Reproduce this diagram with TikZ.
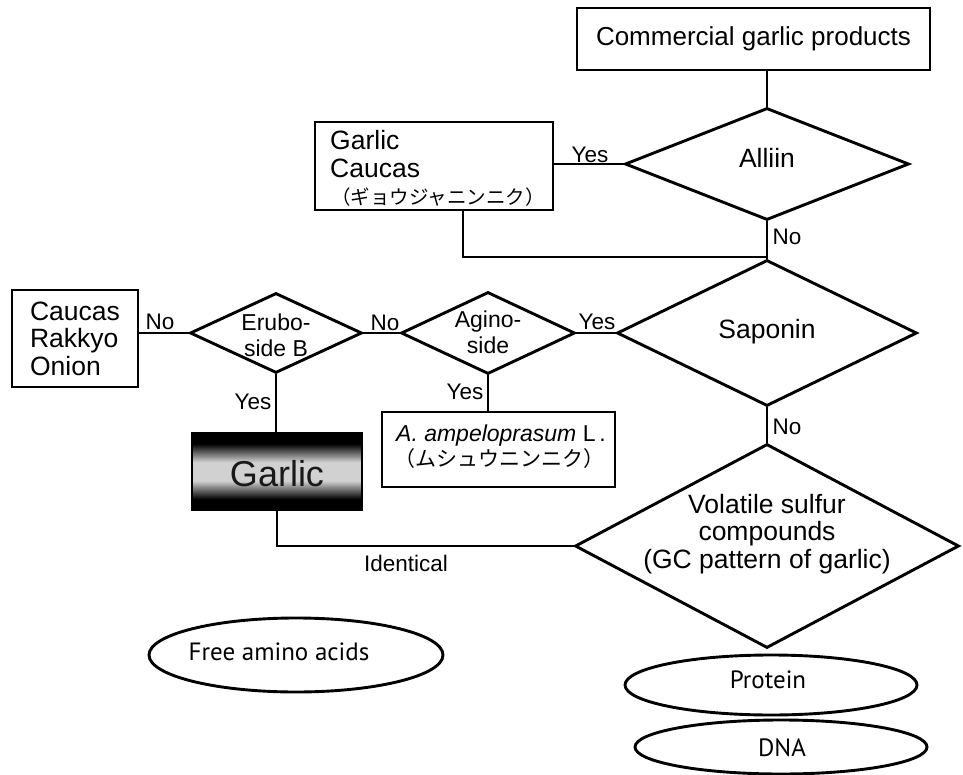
\documentclass[tikz,border=0pt]{standalone}
\usepackage{fontspec}
\setmainfont{Liberation Sans}
\newfontfamily\jp{Noto Sans CJK JP}
\newfontfamily\condfont{PT Sans}
\usetikzlibrary{shapes.geometric}
\pgfdeclareverticalshading{garlicshade}{100bp}{color(0bp)=(black); color(25bp)=(black); color(32bp)=(black); color(44bp)=(black!18); color(56bp)=(black!18); color(68bp)=(black); color(75bp)=(black); color(100bp)=(black)}
\begin{document}
\begin{tikzpicture}[x=1pt,y=-1pt,
  lw/.style={line width=2.9pt},
  box/.style={draw, lw, rectangle, inner sep=0pt},
  dia/.style={draw, lw, diamond, inner sep=0pt},
  ell/.style={draw, lw, ellipse, inner sep=0pt},
  big/.style={inner sep=0pt, font=\fontsize{26.5}{27.5}\selectfont},
  mid/.style={inner sep=0pt, align=center, font=\fontsize{23}{26}\selectfont},
  lbl/.style={inner sep=0pt, font=\fontsize{22.5}{22.5}\selectfont},
  jptext/.style={inner sep=0pt, font=\jp\fontsize{19.5}{19.5}\selectfont},
  condtext/.style={inner sep=0pt, font=\condfont\fontsize{25}{25}\selectfont}
]
\useasboundingbox (0,0) rectangle (963,775);

% boxes
\node[box, minimum width=353pt, minimum height=62pt, font=\fontsize{26}{26}\selectfont] (comm) at (753.5,39) {Commercial garlic products};
\node[box, minimum width=238pt, minimum height=88pt] (gc) at (434,166) {};
\node[big, anchor=west] (gc1) at (330,140) {Garlic};
\node[big, anchor=west] (gc2) at (330,168) {Caucas};
\node[jptext, anchor=west] (gc3) at (331,197) {（ギョウジャニンニク）};
\node[box, minimum width=126pt, minimum height=97pt, big, align=left] (cro) at (75,338.5) {Caucas\\Rakkyo\\Onion};
\node[box, minimum width=170pt, minimum height=77pt, shading=garlicshade] (garlic) at (277,471.5) {};
\node[inner sep=0pt, font=\fontsize{36}{36}\selectfont, text=black!90] (garlictxt) at (277,474) {Garlic};
\node[box, minimum width=233pt, minimum height=75pt] (amp) at (498.5,449.5) {};
\node[inner sep=0pt, font=\fontsize{23}{23}\selectfont] (amp1) at (501,436) {\textit{A. ampeloprasum} L\,.};
\node[jptext, font=\jp\fontsize{21}{21}\selectfont] (amp2) at (499,459) {（ムシュウニンニク）};

% diamonds
\node[dia, minimum width=284pt, minimum height=112pt] (alliin) at (767,164) {};
\node[big] (alliintxt) at (767,158) {Alliin};
\node[dia, minimum width=300pt, minimum height=146pt] (saponin) at (767,333) {};
\node[big] (sapotxt) at (767,332) {Saponin};
\node[dia, minimum width=172pt, minimum height=80pt] (erubo) at (276,333) {};
\node[mid] (erubotxt) at (276,335) {Erubo-\\side B};
\node[dia, minimum width=174pt, minimum height=82pt] (agino) at (488,333) {};
\node[mid] (aginotxt) at (488,332) {Agino-\\side};
\node[dia, minimum width=384pt, minimum height=204pt] (volatile) at (767,546) {};
\node[big, align=center] (voltxt) at (767,534) {Volatile sulfur\\compounds\\(GC pattern of garlic)};

% ellipses
\node[ell, minimum width=294pt, minimum height=74pt] (amino) at (296,655) {};
\node[condtext] (aminotxt) at (279,652) {Free amino acids};
\node[ell, minimum width=292pt, minimum height=60pt] (protein) at (771,685) {};
\node[condtext] (proteintxt) at (768,680) {Protein};
\node[ell, minimum width=292pt, minimum height=54pt] (dna) at (781,747) {};
\node[condtext] (dnatxt) at (782,748) {DNA};

% connectors
\coordinate (j1) at (767,257);
\draw[lw] (alliin.north) -- (alliin.north |- comm.south);
\draw[lw] (alliin.west) -- (alliin.west -| gc.east);
\draw[lw] ([xshift=29pt]gc.south) |- (j1);
\draw[lw] (alliin.south) -- (saponin.north);
\draw[lw] (erubo.west) -- (erubo.west -| cro.east);
\draw[lw] (erubo.east) -- (agino.west);
\draw[lw] (agino.east) -- (saponin.west);
\draw[lw] (erubo.south) -- (erubo.south |- garlic.north);
\draw[lw] (agino.south) -- (agino.south |- amp.north);
\draw[lw] (saponin.south) -- (volatile.north);
\draw[lw] (garlic.south) |- (volatile.west);

% labels
\node[lbl] (l1) at (590,155) {Yes};
\node[lbl] (l2) at (787,237) {No};
\node[lbl] (l3) at (160,322) {No};
\node[lbl] (l4) at (385,323) {No};
\node[lbl] (l5) at (597,322) {Yes};
\node[lbl] (l6) at (465,392) {Yes};
\node[lbl] (l7) at (253,402) {Yes};
\node[lbl] (l8) at (787,427) {No};
\node[lbl, font=\fontsize{22.5}{22.5}\selectfont] (l9) at (406,563) {Identical};
\end{tikzpicture}
\end{document}
